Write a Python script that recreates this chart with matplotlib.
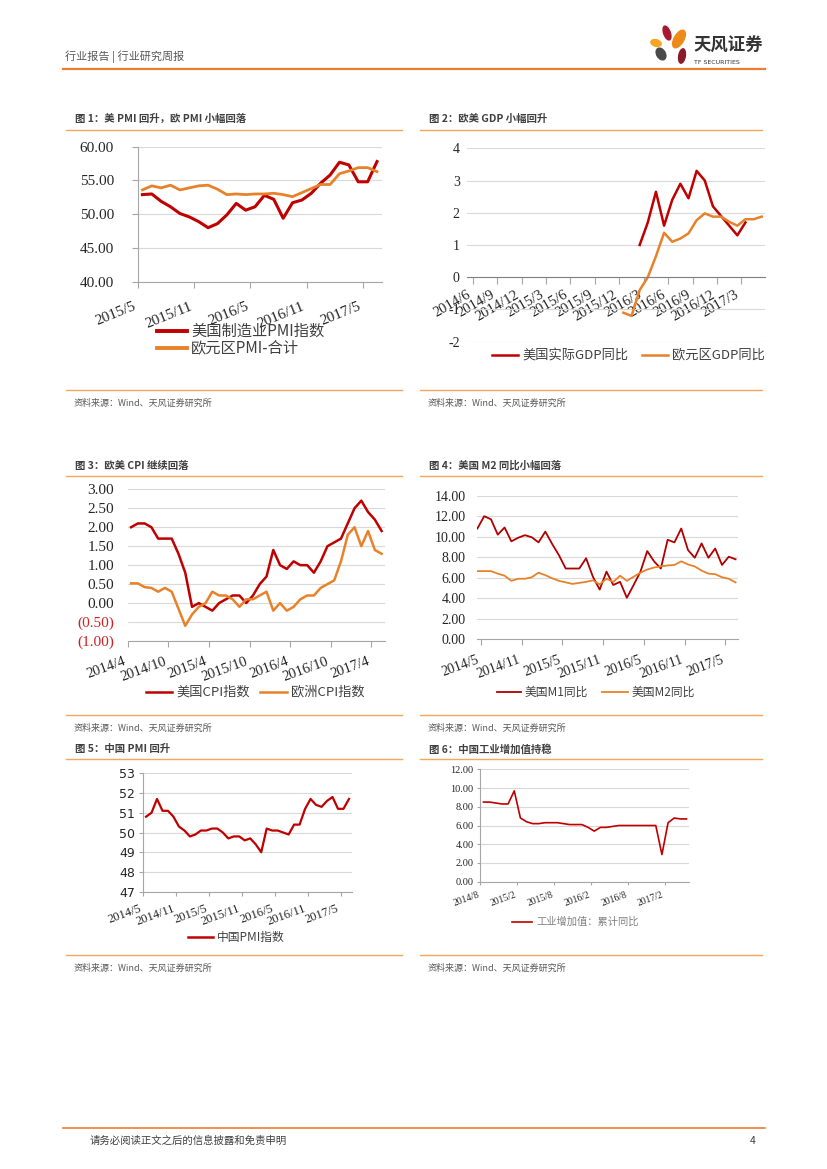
#!/usr/bin/env python
""" Weekly report page 4: six macro charts. """

# Third party modules.
import matplotlib
matplotlib.use("Agg")
import matplotlib.pyplot as plt
from matplotlib.lines import Line2D
from matplotlib.patches import Ellipse

# Globals and constants variables.
W, H = 827, 1169

RED = "#C00000"
ORANGE = "#E8822A"
GRID = "#D9D9D9"
AXIS = "#A6A6A6"
RULE = "#F0A860"
TEXT = "#404040"
SERIF = "Liberation Serif"

plt.rcParams["font.family"] = ["Noto Sans CJK SC", "DejaVu Sans"]

# Chart 1: US / Euro PMI, monthly 2015/5 - 2017/6
pmi_ticks = ["2015/5", "2015/11", "2016/5", "2016/11", "2017/5"]
us_pmi = [52.9, 53.0, 51.9, 51.1, 50.1, 49.6, 48.9, 48.0, 48.6, 49.9, 51.6, 50.6, 51.1,
          52.8, 52.2, 49.4, 51.7, 52.1, 53.1, 54.6, 55.8, 57.7, 57.3, 54.8, 54.8, 57.8]
eu_pmi = [53.6, 54.2, 53.9, 54.3, 53.6, 53.9, 54.2, 54.3, 53.7, 52.9, 53.0, 52.9, 53.0,
          53.0, 53.1, 52.9, 52.6, 53.2, 53.8, 54.4, 54.4, 56.0, 56.4, 56.9, 56.9, 56.3]

# Chart 2: GDP yoy, monthly axis 2014/6 - 2017/6
gdp_ticks = ["2014/6", "2014/9", "2014/12", "2015/3", "2015/6", "2015/9", "2015/12",
             "2016/3", "2016/6", "2016/9", "2016/12", "2017/3"]
us_gdp_start = 21
us_gdp = [1.0, 1.7, 2.65, 1.6, 2.4, 2.9, 2.45, 3.3, 3.0, 2.2, 1.9, 1.6, 1.3, 1.7]
eu_gdp_start = 19
eu_gdp = [-1.1, -1.2, -0.4, 0.0, 0.65, 1.38, 1.1, 1.2, 1.36, 1.77, 1.98, 1.88, 1.88,
          1.72, 1.6, 1.8, 1.8, 1.88]

# Chart 3: CPI, monthly 2014/4 - 2017/5
cpi_ticks = ["2014/4", "2014/10", "2015/4", "2015/10", "2016/4", "2016/10", "2017/4"]
us_cpi = [2.0, 2.1, 2.1, 2.0, 1.7, 1.7, 1.7, 1.3, 0.8, -0.1, 0.0, -0.1, -0.2, 0.0, 0.1,
          0.2, 0.2, 0.0, 0.2, 0.5, 0.7, 1.4, 1.0, 0.9, 1.1, 1.0, 1.0, 0.8, 1.1, 1.5, 1.6,
          1.7, 2.1, 2.5, 2.7, 2.4, 2.2, 1.9]
eu_cpi = [0.52, 0.52, 0.42, 0.4, 0.3, 0.4, 0.3, -0.15, -0.6, -0.3, -0.1, 0.0, 0.3, 0.2,
          0.2, 0.1, -0.1, 0.1, 0.1, 0.2, 0.3, -0.2, 0.0, -0.2, -0.1, 0.1, 0.2, 0.2, 0.4,
          0.5, 0.6, 1.1, 1.8, 2.0, 1.5, 1.9, 1.4, 1.3]
cpi_yticks = ["(1.00)", "(0.50)", "0.00", "0.50", "1.00", "1.50", "2.00", "2.50", "3.00"]

# Chart 4: M1 / M2 yoy, monthly 2014/5 - 2017/7
m_ticks = ["2014/5", "2014/11", "2015/5", "2015/11", "2016/5", "2016/11", "2017/5"]
us_m1 = [10.8, 12.0, 11.7, 10.2, 10.9, 9.55, 9.9, 10.15, 9.95, 9.45, 10.5, 9.3, 8.2, 6.9,
         6.9, 6.9, 7.9, 6.1, 4.85, 6.6, 5.3, 5.6, 4.05, 5.3, 6.6, 8.6, 7.6, 6.9, 9.7, 9.45,
         10.8, 8.7, 7.95, 9.35, 7.95, 8.85, 7.25, 8.05, 7.8]
us_m2 = [6.65, 6.65, 6.65, 6.4, 6.2, 5.7, 5.9, 5.9, 6.05, 6.5, 6.25, 5.95, 5.7, 5.55, 5.4,
         5.5, 5.6, 5.75, 5.35, 5.9, 5.6, 6.2, 5.7, 6.1, 6.5, 6.8, 7.0, 7.1, 7.2, 7.25, 7.6,
         7.3, 7.1, 6.7, 6.4, 6.35, 6.05, 5.9, 5.55]

# Chart 5: China PMI, monthly 2014/5 - 2017/6
cn_ticks = ["2014/5", "2014/11", "2015/5", "2015/11", "2016/5", "2016/11", "2017/5"]
cn_pmi = [50.8, 51.0, 51.7, 51.1, 51.1, 50.8, 50.3, 50.1, 49.8, 49.9, 50.1, 50.1, 50.2,
          50.2, 50.0, 49.7, 49.8, 49.8, 49.6, 49.7, 49.4, 49.0, 50.2, 50.1, 50.1, 50.0,
          49.9, 50.4, 50.4, 51.2, 51.7, 51.4, 51.3, 51.6, 51.8, 51.2, 51.2, 51.7]

# Chart 6: China industrial value added, cumulative yoy, monthly 2014/8 - 2017/5
iva_ticks = ["2014/8", "2015/2", "2015/8", "2016/2", "2016/8", "2017/2"]
cn_iva = [8.5, 8.5, 8.4, 8.3, 8.3, 9.7, 6.8, 6.4, 6.2, 6.2, 6.3, 6.3, 6.3, 6.2, 6.1, 6.1,
          6.1, 5.8, 5.4, 5.8, 5.8, 5.9, 6.0, 6.0, 6.0, 6.0, 6.0, 6.0, 6.0, 2.9, 6.3, 6.8,
          6.7, 6.7]


def px_axes(fig, x0, y0, x1, y1):
    return fig.add_axes([x0 / W, 1 - y1 / H, (x1 - x0) / W, (y1 - y0) / H])


def hline(fig, x0, x1, y, color, lw):
    fig.add_artist(Line2D([x0 / W, x1 / W], [1 - y / H, 1 - y / H], color=color, lw=lw))


def ftext(fig, x, y, s, **kw):
    kw.setdefault("va", "center")
    fig.text(x / W, 1 - y / H, s, **kw)


def legend_item(fig, x0, x1, y, color, lw, label, size, tcolor=TEXT):
    hline(fig, x0, x1, y, color, lw)
    ftext(fig, x1 + 4, y, label, fontsize=size, color=tcolor)


def style(ax, ylim, yticks, ylabels, xlim, xticks, xlabels, ysize, xsize, rot,
          ypad, xpad, left=False, ytick_len=0, xtick_len=4):
    ax.set_ylim(*ylim)
    ax.set_xlim(*xlim)
    ax.set_yticks(yticks)
    ax.set_yticklabels(ylabels)
    ax.set_xticks(xticks)
    ax.set_xticklabels(xlabels, rotation=rot, ha="right", va="top")
    ax.grid(axis="y", color=GRID, lw=0.8)
    ax.set_axisbelow(True)
    for side in ["top", "right"]:
        ax.spines[side].set_visible(False)
    ax.spines["left"].set_visible(left)
    ax.spines["left"].set_color(AXIS)
    ax.spines["bottom"].set_color(AXIS)
    ax.tick_params(axis="y", length=ytick_len, color=AXIS, pad=ypad, labelsize=ysize,
                   labelcolor="#262626", labelfontfamily=SERIF)
    ax.tick_params(axis="x", length=xtick_len, color=AXIS, pad=xpad, labelsize=xsize,
                   labelcolor="#262626", labelfontfamily=SERIF)


def chart_frame(fig, left, title, title_y, rule_y, source_y):
    x0, x1 = (66, 402) if left else (420, 762)
    ftext(fig, x0 + 9, title_y, title, fontsize=7.5, fontweight="bold", color=TEXT)
    hline(fig, x0, x1, rule_y, RULE, 1.0)
    hline(fig, x0, x1, source_y, RULE, 1.0)
    ftext(fig, x0 + 8, source_y + 13, "资料来源：Wind、天风证券研究所", fontsize=6.5,
          color="#595959")


def draw_logo(fig):
    ax = px_axes(fig, 645, 18, 775, 76)
    ax.set_xlim(645, 775)
    ax.set_ylim(76, 18)
    ax.axis("off")
    petals = [((667, 33), 8, 16, -20, "#A6192E"),
              ((679, 39), 11, 21, 30, "#EE8A1A"),
              ((656, 43), 12, 8, 15, "#F5A623"),
              ((661, 54), 10, 14, -30, "#4A4A4A"),
              ((682, 56), 8, 16, 10, "#8B1A2B")]
    for center, w, h, ang, col in petals:
        ax.add_patch(Ellipse(center, w, h, angle=ang, color=col, lw=0))
    ax.text(693, 46, "天风证券", fontsize=12.5, fontweight="bold", color="#333333",
            va="center")
    ax.text(694, 63, "TF SECURITIES", fontsize=4.5, color="#333333", va="center",
            family="DejaVu Sans")


def main():
    fig = plt.figure(figsize=(W / 100, H / 100), dpi=100)
    fig.patch.set_facecolor("white")

    # page header / footer
    ftext(fig, 65, 57, "行业报告 | 行业研究周报", fontsize=8, color="#595959")
    hline(fig, 63, 765, 69, "#ED7D31", 1.6)
    draw_logo(fig)
    hline(fig, 63, 765, 1128, "#ED7D31", 1.2)
    ftext(fig, 90, 1141, "请务必阅读正文之后的信息披露和免责申明", fontsize=7.5, color=TEXT)
    ftext(fig, 750, 1141, "4", fontsize=7.5, color=TEXT)

    # ---- chart 1
    chart_frame(fig, True, "图 1：美 PMI 回升，欧 PMI 小幅回落", 119, 130, 390)
    ax = px_axes(fig, 137.7, 146.7, 381.7, 281.7)
    x = list(range(len(us_pmi)))
    ax.plot(x, us_pmi, color=RED, lw=2.2)
    ax.plot(x, eu_pmi, color=ORANGE, lw=2.0)
    style(ax, (40, 60), [40, 45, 50, 55, 60], ["%.2f" % v for v in [40, 45, 50, 55, 60]],
          (-0.5, len(us_pmi) - 0.5), [-0.5 + 6 * k for k in range(len(pmi_ticks))],
          pmi_ticks, 11, 11, 22, 13, 9, left=True, ytick_len=4, xtick_len=4)
    legend_item(fig, 157, 187, 331, RED, 2.8, "美国制造业PMI指数", 11)
    legend_item(fig, 157, 187, 348, ORANGE, 2.8, "欧元区PMI-合计", 11)

    # ---- chart 2
    chart_frame(fig, False, "图 2：欧美 GDP 小幅回升", 119, 130, 390)
    ax = px_axes(fig, 466.7, 148.3, 765, 341.7)
    ax.spines["bottom"].set_position(("data", 0))
    ax.plot(range(us_gdp_start, us_gdp_start + len(us_gdp)), us_gdp, color=RED, lw=1.8)
    ax.plot(range(eu_gdp_start, eu_gdp_start + len(eu_gdp)), eu_gdp, color=ORANGE, lw=1.8)
    style(ax, (-2, 4), list(range(-2, 5)), [str(v) for v in range(-2, 5)],
          (-0.25, 36.4), [0.5 + 3 * k for k in range(len(gdp_ticks))], gdp_ticks,
          10, 10.5, 30, 5, 3, left=False, ytick_len=0, xtick_len=5)
    ax.spines["bottom"].set_color("#808080")
    legend_item(fig, 492, 518, 355, RED, 1.8, "美国实际GDP同比", 9.5)
    legend_item(fig, 642, 668, 355, ORANGE, 1.8, "欧元区GDP同比", 9.5)

    # ---- chart 3
    chart_frame(fig, True, "图 3：欧美 CPI 继续回落", 466, 476, 715)
    ax = px_axes(fig, 127.7, 489.3, 385, 641)
    x = list(range(len(us_cpi)))
    ax.plot(x, us_cpi, color=RED, lw=1.8)
    ax.plot(x, eu_cpi, color=ORANGE, lw=1.8)
    style(ax, (-1, 3), [-1 + 0.5 * k for k in range(9)], cpi_yticks,
          (-0.5, len(us_cpi) - 0.5), [-0.5 + 6 * k for k in range(len(cpi_ticks))],
          cpi_ticks, 11, 10.5, 20, 10, 6, left=False, xtick_len=4)
    for lab in ax.get_yticklabels():
        if lab.get_text().startswith("("):
            lab.set_color("#D02020")
    legend_item(fig, 146, 172, 692, RED, 1.8, "美国CPI指数", 9.5)
    legend_item(fig, 260, 287, 692, ORANGE, 1.8, "欧洲CPI指数", 9.5)

    # ---- chart 4
    chart_frame(fig, False, "图 4：美国 M2 同比小幅回落", 466, 476, 715)
    ax = px_axes(fig, 476.7, 495.7, 738.3, 639.3)
    x = list(range(len(us_m1)))
    ax.plot(x, us_m1, color="#B00000", lw=1.3)
    ax.plot(x, us_m2, color=ORANGE, lw=1.3)
    style(ax, (0, 14), list(range(0, 15, 2)), ["%.2f" % v for v in range(0, 15, 2)],
          (-0.1, 38.4), [0.5 + 6 * k for k in range(len(m_ticks))], m_ticks,
          10, 10, 20, 8, 6, left=False, xtick_len=4)
    legend_item(fig, 497, 521, 692, "#B00000", 1.3, "美国M1同比", 8.5)
    legend_item(fig, 602, 628, 692, ORANGE, 1.3, "美国M2同比", 8.5)

    # ---- chart 5
    chart_frame(fig, True, "图 5：中国 PMI 回升", 749, 759, 955)
    ax = px_axes(fig, 143.3, 773.3, 351.7, 891.7)
    ax.plot(range(len(cn_pmi)), cn_pmi, color=RED, lw=1.6)
    style(ax, (47, 53), list(range(47, 54)), [str(v) for v in range(47, 54)],
          (-0.5, len(cn_pmi) - 0.5), [-0.5 + 6 * k for k in range(len(cn_ticks))],
          cn_ticks, 9, 9, 20, 3, 5, left=True, ytick_len=3, xtick_len=3)
    ax.tick_params(axis="y", labelfontfamily="DejaVu Sans")
    legend_item(fig, 188, 213, 937, RED, 1.8, "中国PMI指数", 8.5)

    # ---- chart 6
    chart_frame(fig, False, "图 6：中国工业增加值持稳", 749, 759, 955)
    ax = px_axes(fig, 480.4, 769.3, 689, 881.7)
    ax.plot(range(len(cn_iva)), cn_iva, color=RED, lw=1.2)
    style(ax, (0, 12), list(range(0, 13, 2)), ["%.2f" % v for v in range(0, 13, 2)],
          (-0.5, 33.4), [-0.5 + 6 * k for k in range(len(iva_ticks))], iva_ticks,
          7.5, 7, 20, 3, 4, left=True, ytick_len=2, xtick_len=2)
    legend_item(fig, 512, 532, 922, RED, 1.2, "工业增加值：累计同比", 7.4, "#808080")

    fig.savefig("out.png", dpi=100, facecolor="white")


if __name__ == '__main__':
    main()
